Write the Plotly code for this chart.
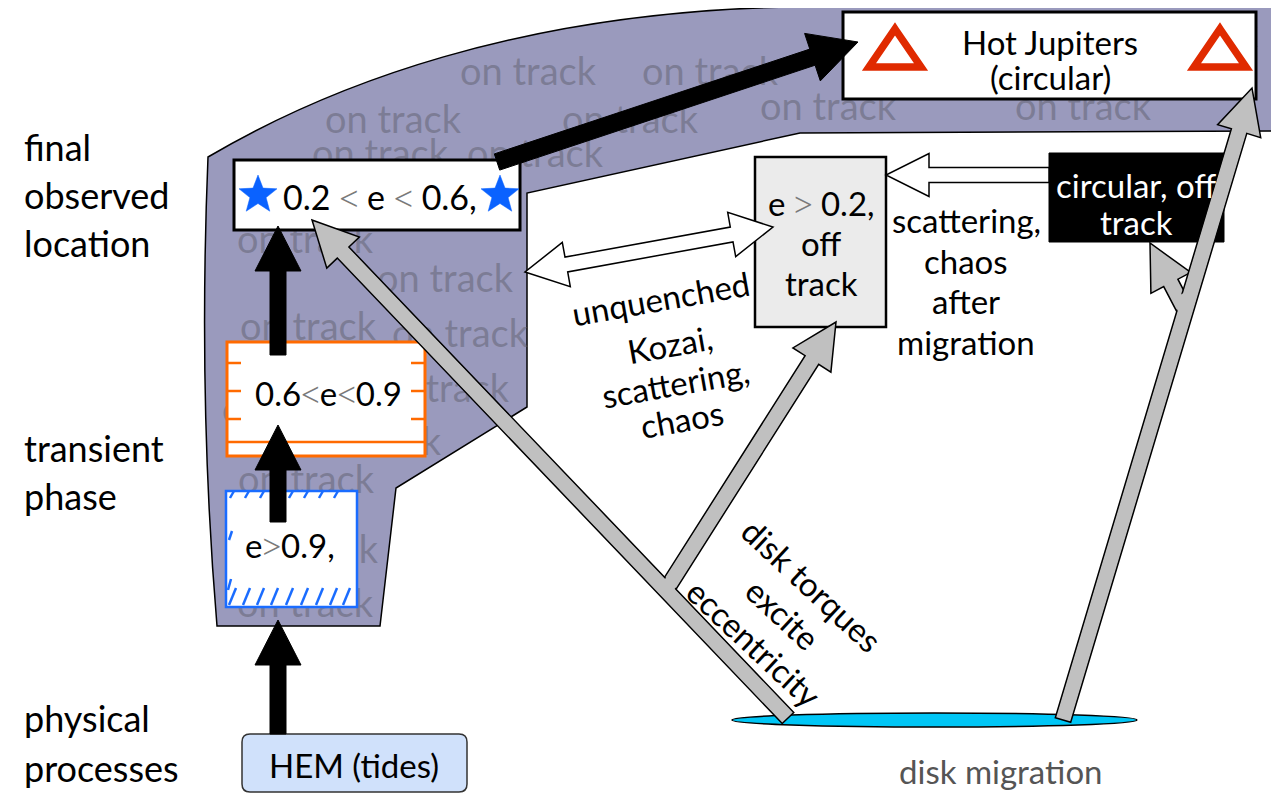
import numpy as np
import plotly.graph_objects as go

W, H = 1279, 794
PAGE_MARGIN = 8  # browser body margin around the plot div
FONT = "Lato"

# ---------------- data ----------------
row_labels = ["final", "observed", "location", "transient", "phase", "physical", "processes"]
row_label_y = [147, 195, 243, 448, 496, 718, 768]

on_track_x = [528, 710, 393, 630, 828, 1083, 380, 535, 305, 445, 308, 460, 290, 441, 373, 306, 310, 305, 1190]
on_track_y = [75, 75, 123, 123, 110, 110, 157, 157, 243, 282, 330, 337, 413, 392, 445, 483, 553, 607, 37]

# boxes: x0, y0, x1, y1
box_final = [234, 160, 520, 230]
box_trans = [227, 342, 425, 456]
box_high = [226, 491, 357, 607]
box_hem = [242, 734, 467, 792]
box_hj = [843, 12, 1256, 99]
box_off = [755, 157, 886, 327]
box_circ = [1049, 153, 1224, 242]
disk = [732, 713, 1137, 727]

star_x = [258, 500]
star_y = [195, 195]
tri_x = [895, 1220]
tri_y = [50, 50]

# arrows: (x0, y0, x1, y1)
black_arrows = [(278, 734, 278, 620), (278, 522, 278, 425), (278, 355, 278, 226)]
big_black = (497, 162, 858, 42)
gray_main = [(788, 718, 312, 220), (1063, 720, 1252, 88)]
gray_branch = [(666, 590, 836, 322), (1186, 312, 1150, 243)]
white_single = (1049, 175, 886, 175)
white_double = (525, 272, 773, 227)

PURPLE = "#9a9abd"
GRAY_ARROW = "#c0c0c0"


def arrow_path(x0, y0, x1, y1, sw, hw, hl, double=False, shaft_only=False):
    p0 = np.array([x0, y0], float)
    p1 = np.array([x1, y1], float)
    d = p1 - p0
    u = d / np.hypot(*d)
    n = np.array([-u[1], u[0]])
    hb = p1 - u * hl
    if shaft_only:
        pts = [p0 + n * sw / 2, hb + n * sw / 2, hb - n * sw / 2, p0 - n * sw / 2]
    elif double:
        tb = p0 + u * hl
        pts = [p0, tb + n * hw / 2, tb + n * sw / 2, hb + n * sw / 2, hb + n * hw / 2, p1,
               hb - n * hw / 2, hb - n * sw / 2, tb - n * sw / 2, tb - n * hw / 2]
    else:
        pts = [p0 + n * sw / 2, hb + n * sw / 2, hb + n * hw / 2, p1,
               hb - n * hw / 2, hb - n * sw / 2, p0 - n * sw / 2]
    return "M " + " L ".join(f"{p[0]:.1f},{p[1]:.1f}" for p in pts) + " Z"


def star_path(cx, cy, R, r):
    pts = []
    for k in range(10):
        a = -np.pi / 2 + k * np.pi / 5
        rad = R if k % 2 == 0 else r
        pts.append((cx + rad * np.cos(a), cy + rad * np.sin(a)))
    return "M " + " L ".join(f"{x:.1f},{y:.1f}" for x, y in pts) + " Z"


def rect(b, fill, line_color, lw, layer="above"):
    return dict(type="rect", x0=b[0], y0=b[1], x1=b[2], y1=b[3], xref="x", yref="y",
                fillcolor=fill, line=dict(color=line_color, width=lw), layer=layer)


def path(p, fill, line_color, lw, layer="above"):
    return dict(type="path", path=p, xref="x", yref="y", fillcolor=fill,
                line=dict(color=line_color, width=lw), layer=layer)


def seg(x0, y0, x1, y1, color, lw):
    return dict(type="line", x0=x0, y0=y0, x1=x1, y1=y1, xref="x", yref="y",
                line=dict(color=color, width=lw), layer="above")


shapes = []
# purple region (below traces)
region = ("M 208,157 C 330,85 520,12 790,7 L 1276,7 L 1276,131 L 800,133 L 527,193 "
          "L 527,407 L 396,488 L 380,626 L 217,626 Q 198,400 208,157 Z")
shapes.append(path(region, PURPLE, "black", 1.5, layer="below"))

# boxes
shapes.append(rect(box_final, "white", "black", 3))
shapes.append(rect(box_trans, "white", "#ff6a00", 3))
for yy in [363, 391, 419]:
    shapes.append(seg(box_trans[0], yy, box_trans[0] + 14, yy, "#ff6a00", 2.5))
    shapes.append(seg(box_trans[2] - 14, yy, box_trans[2], yy, "#ff6a00", 2.5))
shapes.append(seg(box_trans[0], 442, box_trans[2], 442, "#ff6a00", 2.5))

shapes.append(rect(box_high, "white", "#1a6cff", 2.5))
for xx in [230, 245, 260, 274, 289, 304, 319, 334]:
    shapes.append(seg(xx, 498, xx + 4, 491, "#1a6cff", 2.5))
for xx in [229, 243, 257, 271, 286, 301, 316, 330, 343]:
    shapes.append(seg(xx, 605, xx + 7, 588, "#1a6cff", 2.5))
shapes.append(seg(229, 540, 232, 531, "#1a6cff", 2.5))
shapes.append(seg(228, 590, 231, 579, "#1a6cff", 2.5))

x0, y0, x1, y1 = box_hem
rr = 8
hem_p = (f"M {x0+rr},{y0} L {x1-rr},{y0} Q {x1},{y0} {x1},{y0+rr} L {x1},{y1-rr} "
         f"Q {x1},{y1} {x1-rr},{y1} L {x0+rr},{y1} Q {x0},{y1} {x0},{y1-rr} "
         f"L {x0},{y0+rr} Q {x0},{y0} {x0+rr},{y0} Z")
shapes.append(path(hem_p, "#d0e1fb", "#333333", 1.5))

shapes.append(rect(box_hj, "white", "black", 3))
shapes.append(rect(box_off, "#ebebeb", "black", 2.5))
shapes.append(rect(box_circ, "black", "black", 1))

# disk
shapes.append(dict(type="circle", x0=disk[0], y0=disk[1], x1=disk[2], y1=disk[3], xref="x", yref="y",
                   fillcolor="#00c6f6", line=dict(color="black", width=1.5), layer="above"))

# stars & triangles
for cx, cy in zip(star_x, star_y):
    shapes.append(path(star_path(cx, cy, 20, 8.5), "#0a62ff", "#0a62ff", 0.5))
for cx, cy in zip(tri_x, tri_y):
    tp = f"M {cx},{cy-21} L {cx+26},{cy+17} L {cx-26},{cy+17} Z"
    shapes.append(path(tp, "rgba(0,0,0,0)", "#e02a00", 7.5))

# black arrows
for a in black_arrows:
    shapes.append(path(arrow_path(*a, 16, 46, 45), "black", "black", 1))
shapes.append(path(arrow_path(*big_black, 17, 50, 48), "black", "black", 1))

# white hollow arrows
shapes.append(path(arrow_path(*white_single, 15, 43, 43), "white", "black", 1.5))
shapes.append(path(arrow_path(*white_double, 15, 45, 42, double=True), "white", "black", 1.5))

# gray arrows: outlined pass, then fill pass to merge the branch joints
for a in gray_branch + gray_main:
    shapes.append(path(arrow_path(*a, 16, 45, 45), GRAY_ARROW, "black", 1.5))
for a in gray_branch:
    bx0, by0, bx1, by1 = a
    shapes.append(path(arrow_path(bx0, by0, bx1, by1, 13.5, 45, 60, shaft_only=True),
                       GRAY_ARROW, GRAY_ARROW, 0))
for a in gray_main:
    mx0, my0, mx1, my1 = a
    d = np.array([mx1 - mx0, my1 - my0], float)
    u = d / np.hypot(*d)
    shapes.append(path(arrow_path(mx0 + u[0] * 4, my0 + u[1] * 4, mx1, my1, 13.5, 45, 47, shaft_only=True),
                       GRAY_ARROW, GRAY_ARROW, 0))

# ---------------- annotations ----------------
ann = []


def txt(x, y, s, size=33, color="black", angle=0, xanchor="center"):
    ann.append(dict(x=x, y=y, xref="x", yref="y", text=s, showarrow=False, textangle=angle,
                    xanchor=xanchor, yanchor="middle", font=dict(family=FONT, size=size, color=color)))


for s, y in zip(row_labels, row_label_y):
    txt(22, y, s, size=36, xanchor="left")

LT = '<span style="color:#7a7a7a;font-family:Liberation Serif">&lt;</span>'
GT = '<span style="color:#7a7a7a;font-family:Liberation Serif">&gt;</span>'
txt(380, 196, f"0.2 {LT} e {LT} 0.6,", size=34)
txt(328, 393, f"0.6{LT}e{LT}0.9", size=33)
txt(290, 545, f"e{GT}0.9,", size=33)
txt(354, 765, "HEM (tides)", size=33)
txt(1050, 42, "Hot Jupiters", size=33)
txt(1050, 77, "(circular)", size=33)
txt(821, 203, f"e {GT} 0.2,", size=33)
txt(821, 243, "off", size=33)
txt(821, 283, "track", size=33)
txt(1136, 185, "circular, off", size=33, color="white")
txt(1136, 222, "track", size=33, color="white")
for s, y in zip(["scattering,", "chaos", "after", "migration"], [220, 261, 301, 342]):
    txt(966, y, s, size=33)
for s, (x, y) in zip(["unquenched", "Kozai,", "scattering,", "chaos"],
                     [(661, 298), (670, 344), (675, 383), (682, 419)]):
    txt(x, y, s, size=33, angle=-10)
for s, (x, y) in zip(["disk torques", "excite", "eccentricity"],
                     [(812, 585), (783, 614), (754, 643)]):
    txt(x, y, s, size=33, angle=43)
txt(1001, 771, "disk migration", size=33, color="#555555")

fig = go.Figure()
fig.add_trace(go.Scatter(x=on_track_x, y=on_track_y, mode="text", text=["on track"] * len(on_track_x),
                         textfont=dict(family=FONT, size=38, color="rgba(95,95,110,0.5)"),
                         hoverinfo="skip", showlegend=False))

fig.update_layout(
    width=W - PAGE_MARGIN, height=H - PAGE_MARGIN, margin=dict(l=0, r=0, t=0, b=0),
    paper_bgcolor="white", plot_bgcolor="white",
    xaxis=dict(range=[PAGE_MARGIN, W], visible=False, fixedrange=True),
    yaxis=dict(range=[H, PAGE_MARGIN], visible=False, fixedrange=True),
    shapes=shapes, annotations=ann, showlegend=False,
)
fig.write_html("out.html")
